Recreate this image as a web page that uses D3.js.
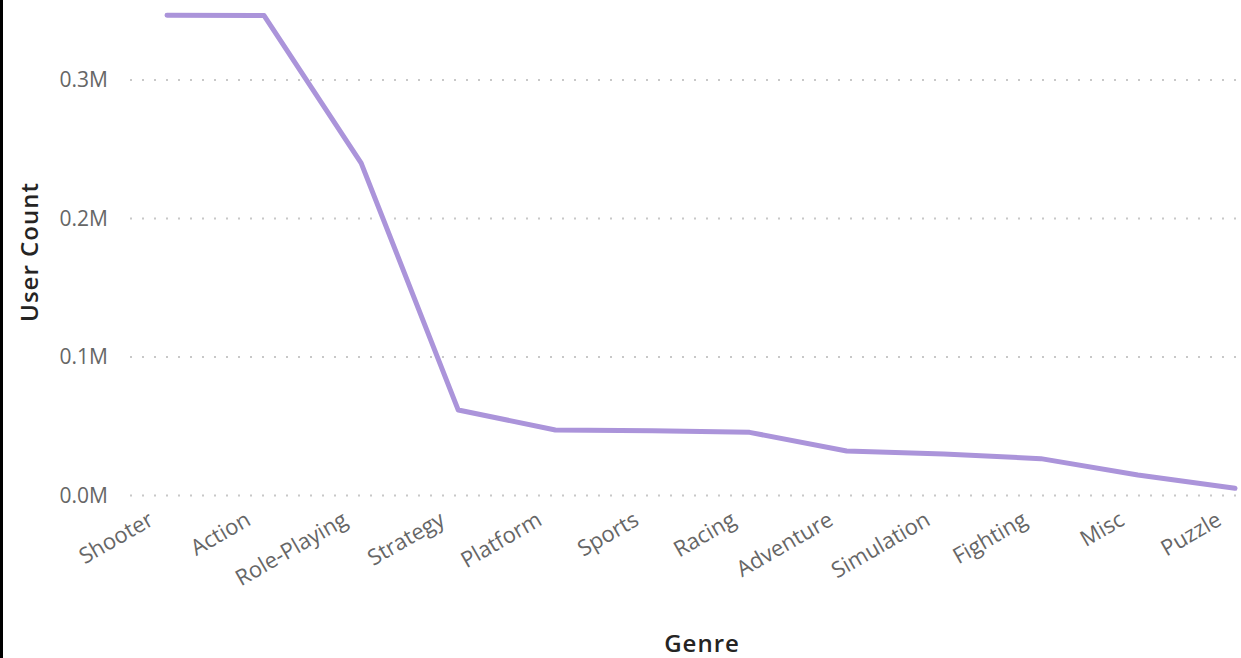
<!DOCTYPE html>
<html>
<head>
<meta charset="utf-8">
<script src="https://cdn.jsdelivr.net/npm/d3@7"></script>
<style>
  body { margin: 0; background: #fff; }
  .tick-label { font-family: "Open Sans", sans-serif; font-size: 21px; fill: #666666; }
  .x-label { font-family: "Open Sans", sans-serif; font-size: 22px; fill: #666666; }
  .axis-title { font-family: "Open Sans", sans-serif; font-size: 24px; font-weight: 600; fill: #252423; letter-spacing: 1px; }
</style>
</head>
<body>
<svg class="genre-chart" width="1241" height="658"></svg>
<script>
// data
var genres = ['Shooter', 'Action', 'Role-Playing', 'Strategy', 'Platform', 'Sports',
              'Racing', 'Adventure', 'Simulation', 'Fighting', 'Misc', 'Puzzle'];
var userCounts = [0.3467, 0.3465, 0.240, 0.0617, 0.0473, 0.0468,
                  0.0456, 0.0321, 0.0300, 0.0266, 0.0148, 0.0052]; // millions
var yTicks = [0, 0.1, 0.2, 0.3];

var svg = d3.select('.genre-chart');
var width = +svg.attr('width'), height = +svg.attr('height');

var data = genres.map(function(g, i) { return {genre: g, value: userCounts[i]}; });

var xScale = d3.scalePoint()
    .domain(genres)
    .range([167, 1235]);

var yScale = d3.scaleLinear()
    .domain([0, 0.3])
    .range([495.5, 80]);

// left frame edge
svg.append('rect')
  .attr('x', 0).attr('y', 0)
  .attr('width', 3).attr('height', height)
  .style('fill', '#000');

// dotted gridlines + y labels
var grid = svg.append('g').attr('class', 'y grid');
grid.selectAll('line')
    .data(yTicks)
  .enter().append('line')
    .attr('x1', 130)
    .attr('x2', width)
    .attr('y1', function(d) { return yScale(d); })
    .attr('y2', function(d) { return yScale(d); })
    .style('stroke', '#c8c8c8')
    .style('stroke-width', 2)
    .style('stroke-dasharray', '2,10');

grid.selectAll('text')
    .data(yTicks)
  .enter().append('text')
    .attr('class', 'tick-label')
    .attr('x', 108)
    .attr('y', function(d) { return yScale(d); })
    .attr('dy', '0.35em')
    .attr('text-anchor', 'end')
    .text(function(d) { return d3.format('.1f')(d) + 'M'; });

// x labels, rotated
svg.append('g').attr('class', 'x labels')
  .selectAll('text')
    .data(genres)
  .enter().append('text')
    .attr('class', 'x-label')
    .attr('text-anchor', 'end')
    .attr('transform', function(d) { return 'translate(' + (xScale(d) - 12) + ',524) rotate(-30)'; })
    .text(function(d) { return d; });

// the line
var line = d3.line()
    .x(function(d) { return xScale(d.genre); })
    .y(function(d) { return yScale(d.value); });

svg.append('path')
    .datum(data)
    .attr('d', line)
    .style('fill', 'none')
    .style('stroke', '#ab94da')
    .style('stroke-width', 5)
    .style('stroke-linejoin', 'round')
    .style('stroke-linecap', 'round');

// axis titles
svg.append('text')
  .attr('class', 'axis-title')
  .attr('text-anchor', 'middle')
  .attr('transform', 'translate(38,252) rotate(-90)')
  .text('User Count');

svg.append('text')
  .attr('class', 'axis-title')
  .attr('text-anchor', 'middle')
  .attr('x', 702)
  .attr('y', 652)
  .text('Genre');
</script>
</body>
</html>
